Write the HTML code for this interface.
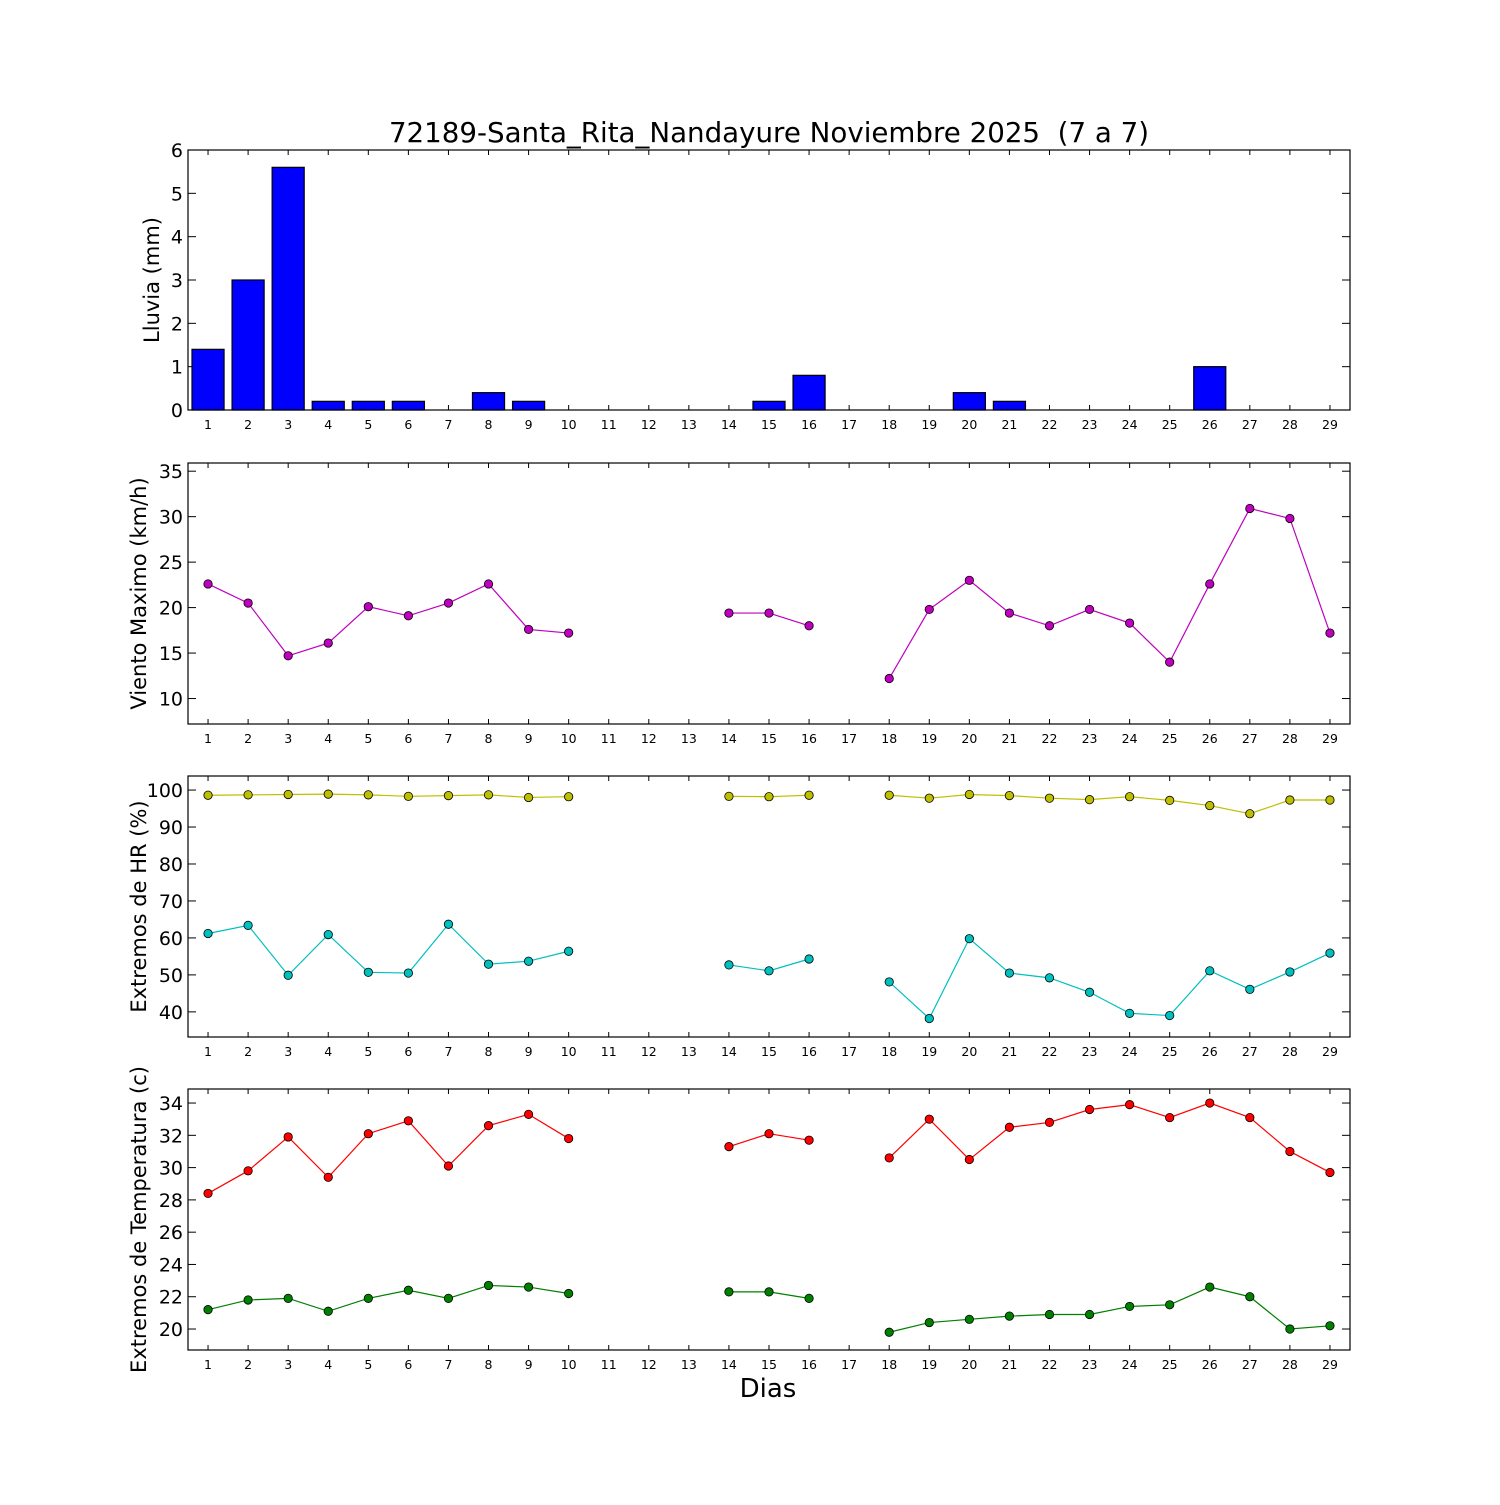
<!DOCTYPE html>
<html><head><meta charset="utf-8"><style>
body{margin:0;background:#fff}
svg text{font-family:"DejaVu Sans","Liberation Sans",sans-serif;fill:#000;white-space:pre}
</style></head><body>
<svg id="c" width="1500" height="1500" xmlns="http://www.w3.org/2000/svg">
<rect width="1500" height="1500" fill="#fff"/>
<text x="769" y="142" font-size="27.7" text-anchor="middle" xml:space="preserve">72189-Santa_Rita_Nandayure Noviembre 2025  (7 a 7)</text>
<text x="768" y="1397" font-size="26" text-anchor="middle">Dias</text>
</svg>
<script>
const days=["1","2","3","4","5","6","7","8","9","10","11","12","13","14","15","16","17","18","19","20","21","22","23","24","25","26","27","28","29"];
const rain=[1.4,3,5.6,0.2,0.2,0.2,0,0.4,0.2,0,0,0,0,0,0.2,0.8,0,0,0,0.4,0.2,0,0,0,0,1,0,0,0];
const wind=[22.6,20.5,14.7,16.1,20.1,19.1,20.5,22.6,17.6,17.2,null,null,null,19.4,19.4,18,null,12.2,19.8,23,19.4,18,19.8,18.3,14,22.6,30.9,29.8,17.2];
const hrMax=[98.6,98.7,98.8,98.9,98.7,98.3,98.5,98.7,98,98.2,null,null,null,98.3,98.2,98.6,null,98.6,97.8,98.8,98.5,97.8,97.4,98.2,97.2,95.8,93.6,97.3,97.3];
const hrMin=[61.2,63.4,49.9,60.9,50.7,50.5,63.7,52.9,53.7,56.4,null,null,null,52.7,51.1,54.3,null,48.1,38.2,59.8,50.5,49.2,45.3,39.6,39,51.1,46.1,50.8,55.9];
const tMax=[28.4,29.8,31.9,29.4,32.1,32.9,30.1,32.6,33.3,31.8,null,null,null,31.3,32.1,31.7,null,30.6,33,30.5,32.5,32.8,33.6,33.9,33.1,34,33.1,31,29.7];
const tMin=[21.2,21.8,21.9,21.1,21.9,22.4,21.9,22.7,22.6,22.2,null,null,null,22.3,22.3,21.9,null,19.8,20.4,20.6,20.8,20.9,20.9,21.4,21.5,22.6,22,20,20.2];
const rainTicks=[0,1,2,3,4,5,6];
const windTicks=[10,15,20,25,30,35];
const hrTicks=[40,50,60,70,80,90,100];
const tTicks=[20,22,24,26,28,30,32,34];

const svg=document.getElementById('c');
const NS='http://www.w3.org/2000/svg';
const L=188,R=1350;
function xs(i){return L+(i+0.5)*(R-L)/days.length;}
function mk(tag,attrs,parent){const e=document.createElementNS(NS,tag);for(const k in attrs)e.setAttribute(k,attrs[k]);(parent||svg).appendChild(e);return e;}

function panel(name,top,bot,ymin,ymax,ticks,label){
  const g=mk('g',{});
  
  
  const ys=v=>bot-(v-ymin)/(ymax-ymin)*(bot-top);
  days.forEach((d,i)=>{
    const x=xs(i);
    mk('line',{x1:x,x2:x,y1:bot,y2:bot-5,stroke:'#000'},g);
    mk('line',{x1:x,x2:x,y1:top,y2:top+5,stroke:'#000'},g);
    const t=mk('text',{x:x,y:bot+19,'font-size':12.5,'text-anchor':'middle'},g);
    t.textContent=d;
    
    
  });
  ticks.forEach(v=>{
    const y=ys(v);
    mk('line',{x1:L,x2:L+8,y1:y,y2:y,stroke:'#000'},g);
    mk('line',{x1:R,x2:R-8,y1:y,y2:y,stroke:'#000'},g);
    const t=mk('text',{x:L-5,y:y+7,'font-size':19,'text-anchor':'end'},g);
    t.textContent=v;
    
    
  });
  const cy=(top+bot)/2;
  const t=mk('text',{x:0,y:0,'font-size':21,'text-anchor':'middle',transform:`translate(${top<200?159:146},${cy}) rotate(-90)`},g);
  t.textContent=label;
  
  
  return {g,ys,top,bot};
}
function frame(p){const r=mk('rect',{x:L,y:p.top,width:R-L,height:p.bot-p.top,fill:'none',stroke:'#000','stroke-width':1.2},p.g);}
function series(p,vals,color,name){
  let seg=[];
  const segs=[];
  vals.forEach((v,i)=>{if(v==null){if(seg.length)segs.push(seg);seg=[];}else seg.push([xs(i),p.ys(v)]);});
  if(seg.length)segs.push(seg);
  segs.forEach(s=>{const pl=mk('polyline',{points:s.map(q=>q.join(',')).join(' '),fill:'none',stroke:color,'stroke-width':1.2},p.g);
    });
  vals.forEach((v,i)=>{if(v==null)return;const c=mk('circle',{cx:xs(i),cy:p.ys(v),r:4.2,fill:color,stroke:'#000','stroke-width':0.8},p.g);
    });
}

const p1=panel('rain',150,410,0,6,rainTicks,'Lluvia (mm)');
rain.forEach((v,i)=>{const w=0.8*(R-L)/days.length;const y=p1.ys(v);
  const b=mk('rect',{x:xs(i)-w/2,y:y,width:w,height:p1.bot-y,fill:'#0000ff',stroke:'#000','stroke-width':1.2},p1.g);
  });
frame(p1);

const p2=panel('wind',463,724,7.2,35.9,windTicks,'Viento Maximo (km/h)');
series(p2,wind,'#bf00bf','wind');frame(p2);

const p3=panel('humidity',776,1037,33.2,103.8,hrTicks,'Extremos de HR (%)');
series(p3,hrMax,'#bfbf00','hr-max');series(p3,hrMin,'#00bfbf','hr-min');frame(p3);

const p4=panel('temperature',1089,1350,18.7,34.87,tTicks,'Extremos de Temperatura (c)');
series(p4,tMax,'#ff0000','temp-max');series(p4,tMin,'#008000','temp-min');frame(p4);
</script>
</body></html>
